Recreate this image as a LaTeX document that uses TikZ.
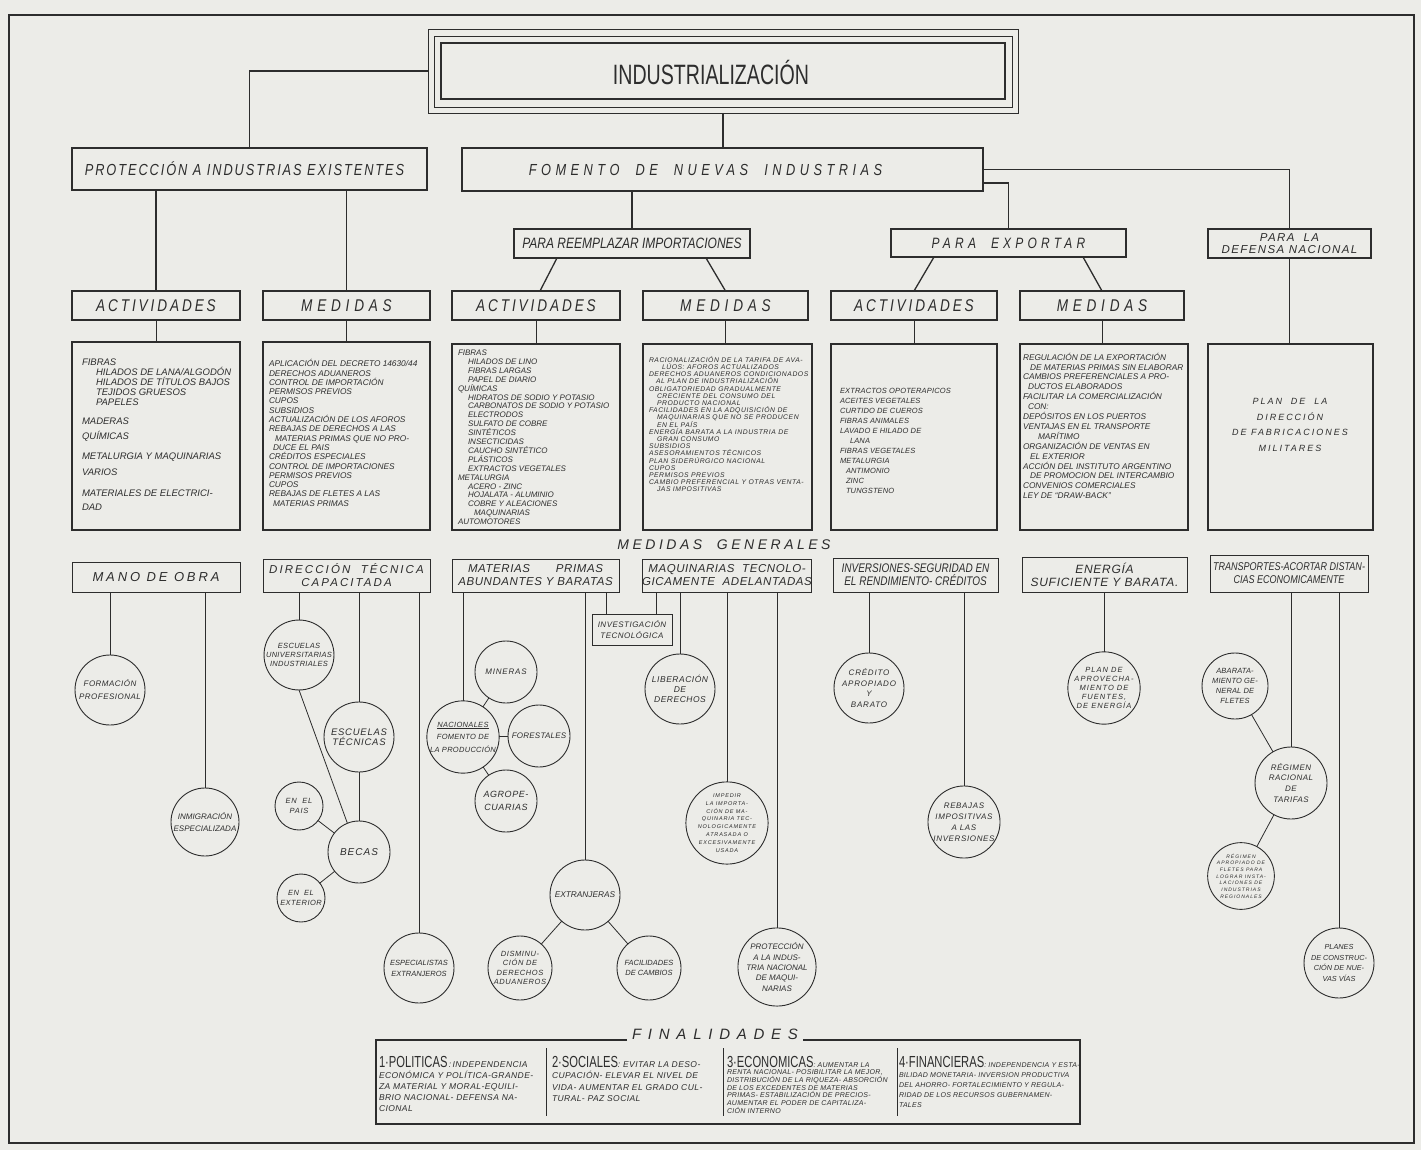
\documentclass[tikz,border=0pt]{standalone}
\usepackage{fontspec}
\setmainfont{Liberation Sans}
\newfontfamily\condf[FakeStretch=0.8]{Liberation Sans}
\newfontfamily\titlef[FakeStretch=0.7]{Liberation Sans}
\usetikzlibrary{calc}
\definecolor{paper}{RGB}{236,236,232}
\definecolor{inkc}{RGB}{45,45,45}
\newcommand{\fs}[2]{\fontsize{#1}{#2}\selectfont}
\newcommand{\ls}[1]{\addfontfeature{LetterSpace=#1}}
\newcommand{\ind}[1]{\hspace*{#1pt}}
\newcommand{\Bx}[7]{\node[#1,minimum width={(#5-#3)*1pt},minimum height={(#6-#4)*1pt}] (#2) at ({(#3+#5)/2},{(#4+#6)/2}) {#7};}
\newcommand{\Cr}[6]{\node[circ,minimum size={2*#5*1pt},#1] (#2) at (#3,#4) {#6};}
\begin{document}
\lineskiplimit=-100pt
\begin{tikzpicture}[x=1pt,y=-1pt,
  lvbox/.style={draw=inkc,line width=2.2pt,inner sep=0pt,outer sep=0pt,text=inkc,align=center},
  mgbox/.style={draw=inkc,line width=1pt,inner sep=0pt,outer sep=0pt,text=inkc,align=center},
  thinbox/.style={draw=inkc,line width=0.8pt,inner sep=0pt,outer sep=0pt},
  circ/.style={circle,draw=inkc,line width=0.9pt,inner sep=0pt,outer sep=0pt,text=inkc,align=center},
  txt/.style={inner sep=0pt,outer sep=0pt,text=inkc,align=left},
  conbig/.style={draw=inkc,line width=1.7pt},
  conmid/.style={draw=inkc,line width=1.3pt},
  consmall/.style={draw=inkc,line width=0.8pt}]
\fill[paper] (0,0) rectangle (1421,1150);
\useasboundingbox (0,0) rectangle (1421,1150);
\draw[inkc,line width=1.8pt] (9,15) rectangle (1414,1143);

% ---------- title ----------
\Bx{thinbox}{tout}{428}{29}{1018}{113}{}
\Bx{thinbox}{tmid}{434}{36}{1012}{107}{}
\Bx{thinbox,line width=2.4pt}{tin}{441}{43}{1005}{99}{}
\node[txt,font=\titlef\fs{28}{28}] (ttext) at (711,72) {INDUSTRIALIZACIÓN};

% ---------- level 2 ----------
\Bx{lvbox,font=\condf\itshape\fs{16}{16}\ls{12}}{prot}{72}{148}{427}{190}{PROTECCIÓN\ A\ INDUSTRIAS\ EXISTENTES\hspace*{10pt}}
\Bx{lvbox,font=\condf\itshape\fs{16}{16}\ls{28}}{fom}{462}{148}{983}{191}{FOMENTO\ \ DE\ \ NUEVAS\ \ INDUSTRIAS\hspace*{34pt}}
\Bx{lvbox,font=\condf\itshape\fs{15}{15}}{reemp}{514}{229}{750}{258}{PARA REEMPLAZAR IMPORTACIONES}
\Bx{lvbox,font=\condf\itshape\fs{15}{15}\ls{28}}{expo}{891}{229}{1126}{257}{PARA\quad EXPORTAR}
\Bx{lvbox,font=\itshape\fs{11.5}{12.5}\ls{12}}{defn}{1208}{229}{1371}{258}{PARA\ \ LA\\DEFENSA NACIONAL}

% ---------- level 3 ----------
\Bx{lvbox,font=\condf\itshape\fs{17}{17}\ls{17}}{act1}{72}{291}{240}{320}{ACTIVIDADES}
\Bx{lvbox,font=\condf\itshape\fs{17}{17}\ls{28}}{med1}{263}{291}{430}{320}{MEDIDAS}
\Bx{lvbox,font=\condf\itshape\fs{17}{17}\ls{17}}{act2}{452}{291}{620}{320}{ACTIVIDADES}
\Bx{lvbox,font=\condf\itshape\fs{17}{17}\ls{28}}{med2}{643}{291}{808}{320}{MEDIDAS}
\Bx{lvbox,font=\condf\itshape\fs{17}{17}\ls{17}}{act3}{831}{291}{997}{320}{ACTIVIDADES}
\Bx{lvbox,font=\condf\itshape\fs{17}{17}\ls{28}}{med3}{1020}{291}{1184}{320}{MEDIDAS}

% ---------- content boxes ----------
\Bx{lvbox}{c1}{72}{342}{240}{530}{}
\Bx{lvbox}{c2}{263}{342}{430}{530}{}
\Bx{lvbox}{c3}{452}{344}{620}{530}{}
\Bx{lvbox}{c4}{643}{344}{812}{530}{}
\Bx{lvbox}{c5}{831}{344}{997}{530}{}
\Bx{lvbox}{c6}{1020}{344}{1188}{530}{}
\Bx{lvbox}{c7}{1208}{344}{1373}{530}{}

\node[txt,anchor=north west,font=\itshape\fs{9.5}{10}] (t1) at (82,359) {FIBRAS\\
\ind{14}HILADOS DE LANA/ALGODÓN\\
\ind{14}HILADOS DE TÍTULOS BAJOS\\
\ind{14}TEJIDOS GRUESOS\\
\ind{14}PAPELES\\[9pt]
MADERAS\\[5pt]
QUÍMICAS\\[10pt]
METALURGIA Y MAQUINARIAS\\[6pt]
VARIOS\\[11pt]
MATERIALES DE ELECTRICI-\\[4pt]
DAD};

\node[txt,anchor=north west,font=\itshape\fs{8.3}{9.3}] (t2) at (269,359.5) {APLICACIÓN DEL DECRETO 14630/44\\
DERECHOS ADUANEROS\\
CONTROL DE IMPORTACIÓN\\
PERMISOS PREVIOS\\
CUPOS\\
SUBSIDIOS\\
ACTUALIZACIÓN DE LOS AFOROS\\
REBAJAS DE DERECHOS A LAS\\
\ind{6}MATERIAS PRIMAS QUE NO PRO-\\
\ind{4}DUCE EL PAIS\\
CRÉDITOS ESPECIALES\\
CONTROL DE IMPORTACIONES\\
PERMISOS PREVIOS\\
CUPOS\\
REBAJAS DE FLETES A LAS\\
\ind{4}MATERIAS PRIMAS};

\node[txt,anchor=north west,font=\itshape\fs{8}{8.9}] (t3) at (458,350) {FIBRAS\\
\ind{10}HILADOS DE LINO\\
\ind{10}FIBRAS LARGAS\\
\ind{10}PAPEL DE DIARIO\\
QUÍMICAS\\
\ind{10}HIDRATOS DE SODIO Y POTASIO\\
\ind{10}CARBONATOS DE SODIO Y POTASIO\\
\ind{10}ELECTRODOS\\
\ind{10}SULFATO DE COBRE\\
\ind{10}SINTÉTICOS\\
\ind{10}INSECTICIDAS\\
\ind{10}CAUCHO SINTÉTICO\\
\ind{10}PLÁSTICOS\\
\ind{10}EXTRACTOS VEGETALES\\
METALURGIA\\
\ind{10}ACERO - ZINC\\
\ind{10}HOJALATA - ALUMINIO\\
\ind{10}COBRE Y ALEACIONES\\
\ind{16}MAQUINARIAS\\
AUTOMOTORES};

\node[txt,anchor=north west,font=\itshape\fs{6.8}{7.2}\ls{8}] (t4) at (649,356.5) {RACIONALIZACIÓN DE LA TARIFA DE AVA-\\
\ind{13}LÚOS: AFOROS ACTUALIZADOS\\
DERECHOS ADUANEROS CONDICIONADOS\\
\ind{7}AL PLAN DE INDUSTRIALIZACIÓN\\
OBLIGATORIEDAD GRADUALMENTE\\
\ind{8}CRECIENTE DEL CONSUMO DEL\\
\ind{8}PRODUCTO NACIONAL\\
FACILIDADES EN LA ADQUISICIÓN DE\\
\ind{8}MAQUINARIAS QUE NO SE PRODUCEN\\
\ind{8}EN EL PAÍS\\
ENERGÍA BARATA A LA INDUSTRIA DE\\
\ind{8}GRAN CONSUMO\\
SUBSIDIOS\\
ASESORAMIENTOS TÉCNICOS\\
PLAN SIDERÚRGICO NACIONAL\\
CUPOS\\
PERMISOS PREVIOS\\
CAMBIO PREFERENCIAL Y OTRAS VENTA-\\
\ind{8}JAS IMPOSITIVAS};

\node[txt,anchor=north west,font=\itshape\fs{7.5}{10}\ls{2}] (t5) at (840,388) {EXTRACTOS OPOTERAPICOS\\
ACEITES VEGETALES\\
CURTIDO DE CUEROS\\
FIBRAS ANIMALES\\
LAVADO E HILADO DE\\
\ind{10}LANA\\
FIBRAS VEGETALES\\
METALURGIA\\
\ind{6}ANTIMONIO\\
\ind{6}ZINC\\
\ind{6}TUNGSTENO};

\node[txt,anchor=north west,font=\itshape\fs{8.3}{9.9}] (t6) at (1023,353) {REGULACIÓN DE LA EXPORTACIÓN\\
\ind{7}DE MATERIAS PRIMAS SIN ELABORAR\\
CAMBIOS PREFERENCIALES A PRO-\\
\ind{5}DUCTOS ELABORADOS\\
FACILITAR LA COMERCIALIZACIÓN\\
\ind{5}CON:\\
DEPÓSITOS EN LOS PUERTOS\\
VENTAJAS EN EL TRANSPORTE\\
\ind{15}MARÍTIMO\\
ORGANIZACIÓN DE VENTAS EN\\
\ind{7}EL EXTERIOR\\
ACCIÓN DEL INSTITUTO ARGENTINO\\
\ind{7}DE PROMOCION DEL INTERCAMBIO\\
CONVENIOS COMERCIALES\\
LEY DE ``DRAW-BACK''};

\node[txt,align=center,font=\itshape\fs{9}{15.6}\ls{22}] (t7) at (1290,425) {PLAN\ \ DE\ \ LA\\ DIRECCIÓN\\ DE FABRICACIONES\\ MILITARES};

% ---------- medidas generales ----------
\node[txt,font=\itshape\fs{14}{14}\ls{25}] (mgt) at (724,545) {MEDIDAS\ \ GENERALES};
\Bx{mgbox,font=\itshape\fs{13}{13}\ls{22}}{mg1}{72}{562}{240}{592}{MANO DE OBRA}
\Bx{mgbox,font=\itshape\fs{11.5}{13}\ls{18}}{mg2}{263}{559}{430}{592}{DIRECCIÓN\ \ TÉCNICA\\CAPACITADA}
\Bx{mgbox,font=\itshape\fs{11.5}{13}\ls{5}}{mg3}{452}{559}{619}{592}{MATERIAS\hspace{26pt}PRIMAS\\ABUNDANTES Y BARATAS}
\Bx{mgbox,font=\itshape\fs{11.5}{13}\ls{5}}{mg4}{644}{559}{810}{592}{MAQUINARIAS\ \ TECNOLO-\\GICAMENTE\ \ ADELANTADAS}
\Bx{mgbox,font=\condf\itshape\fs{12.5}{13}}{mg5}{833}{558}{998}{592}{INVERSIONES-SEGURIDAD EN\\EL RENDIMIENTO- CRÉDITOS}
\Bx{mgbox,font=\itshape\fs{12}{13}\ls{6}}{mg6}{1022}{557}{1187}{592}{ENERGÍA\\SUFICIENTE Y BARATA.}
\Bx{mgbox,font=\condf\itshape\fs{11.3}{13}}{mg7}{1210}{555}{1368}{592}{TRANSPORTES-ACORTAR DISTAN-\\CIAS ECONOMICAMENTE}

% ---------- circles ----------
\Cr{font=\itshape\fs{8}{13}\ls{6}}{form}{110}{690}{35}{FORMACIÓN\\PROFESIONAL}
\Cr{font=\itshape\fs{8}{12.5}}{inmig}{205}{822}{34}{INMIGRACIÓN\\ESPECIALIZADA}
\Cr{font=\itshape\fs{7.5}{9.3}\ls{4}}{escuniv}{299}{655}{34}{ESCUELAS\\UNIVERSITARIAS\\INDUSTRIALES}
\Cr{font=\itshape\fs{9.5}{10.5}\ls{8}}{esctec}{359}{737}{35}{ESCUELAS\\TÉCNICAS}
\Cr{font=\itshape\fs{10}{10}\ls{10}}{becas}{359}{852}{31}{BECAS}
\Cr{font=\itshape\fs{7.5}{10}\ls{10}}{paisc}{299}{806}{24}{EN\ \ EL\\PAIS}
\Cr{font=\itshape\fs{7.5}{10}\ls{6}}{exter}{301}{898}{24}{EN\ \ EL\\EXTERIOR}
\Cr{font=\itshape\fs{7.5}{11}}{espec}{419}{968}{35}{ESPECIALISTAS\\EXTRANJEROS}
\Cr{font=\itshape\fs{7.5}{12.5}\ls{4}}{nac}{463}{737}{35}{\underline{NACIONALES}\\FOMENTO DE\\LA PRODUCCIÓN}
\Cr{font=\itshape\fs{8}{10}\ls{10}}{minr}{506}{672}{31}{MINERAS}
\Cr{font=\itshape\fs{8}{10}\ls{3}}{fores}{539}{736}{31}{FORESTALES}
\Cr{font=\itshape\fs{9}{12.7}\ls{6}}{agro}{506}{801}{31}{AGROPE-\\CUARIAS}
\Cr{font=\itshape\fs{8.3}{10}}{extr}{585}{895}{35}{EXTRANJERAS}
\Cr{font=\itshape\fs{7.5}{9.5}\ls{8}}{dism}{520}{968}{32}{DISMINU-\\CIÓN DE\\DERECHOS\\ADUANEROS}
\Cr{font=\itshape\fs{7.5}{10.7}}{facil}{649}{968}{32}{FACILIDADES\\DE CAMBIOS}
\Bx{mgbox,font=\itshape\fs{8}{11}\ls{6}}{inv}{592}{614}{672}{645}{INVESTIGACIÓN\\TECNOLÓGICA}
\Cr{font=\itshape\fs{8.5}{10}\ls{6}}{lib}{680}{689}{35}{LIBERACIÓN\\DE\\DERECHOS}
\Cr{font=\itshape\fs{5.5}{7.8}\ls{15}}{imped}{727}{823}{34}{IMPEDIR\\LA IMPORTA-\\CIÓN DE MA-\\QUINARIA TEC-\\NOLOGICAMENTE\\ATRASADA O\\EXCESIVAMENTE\\USADA}
\Cr{font=\itshape\fs{8}{10.4}}{protm}{777}{967}{35}{PROTECCIÓN\\A LA INDUS-\\TRIA NACIONAL\\DE MAQUI-\\NARIAS}
\Cr{font=\itshape\fs{8}{10.6}\ls{10}}{cred}{869}{688}{35}{CRÉDITO\\APROPIADO\\Y\\BARATO}
\Cr{font=\itshape\fs{8}{11}\ls{8}}{rebaj}{964}{822}{34}{REBAJAS\\IMPOSITIVAS\\A LAS\\INVERSIONES}
\Cr{font=\itshape\fs{7.5}{9.2}\ls{14}}{planen}{1104}{688}{35}{PLAN DE\\APROVECHA-\\MIENTO DE\\FUENTES,\\DE ENERGÍA}
\Cr{font=\itshape\fs{7.5}{10}\ls{2}}{abar}{1235}{686}{33}{ABARATA-\\MIENTO GE-\\NERAL DE\\FLETES}
\Cr{font=\itshape\fs{8}{10.9}\ls{6}}{regim}{1291}{783}{36}{RÉGIMEN\\RACIONAL\\DE\\TARIFAS}
\Cr{font=\itshape\fs{5}{6.7}\ls{20}}{regap}{1241}{876}{28}{RÉGIMEN\\APROPIADO DE\\FLETES PARA\\LOGRAR INSTA-\\LACIONES DE\\INDUSTRIAS\\REGIONALES}
\Cr{font=\itshape\fs{7.3}{10.7}}{planes}{1339}{963}{35}{PLANES\\DE CONSTRUC-\\CIÓN DE NUE-\\VAS VÍAS}

% ---------- connectors, upper part ----------
\draw[conbig] (tout.west) -| (prot.north);
\draw[conbig] (tout.south) -- (tout.south |- fom.north);
\draw[conbig] (fom.east) -| (defn.north);
\draw[conbig] ($(fom.south east)+(0,-8)$) -| (expo.north);
\draw[conbig] (reemp.north) -- (reemp.north |- fom.south);
\draw[conbig] (act1.north) -- (act1.north |- prot.south);
\draw[conbig] (med1.north) -- (med1.north |- prot.south);
\draw[conmid] ($(reemp.south west)+(43,0)$) -- ($(act2.north)+(4,0)$);
\draw[conmid] ($(reemp.south east)+(-44,0)$) -- (med2.north);
\draw[conmid] ($(expo.south west)+(43,0)$) -- (act3.north);
\draw[conmid] ($(expo.south east)+(-43,0)$) -- (med3.north);
\draw[consmall] (act1.south) -- (act1.south |- c1.north);
\draw[consmall] (med1.south) -- (med1.south |- c2.north);
\draw[consmall] (act2.south) -- (act2.south |- c3.north);
\draw[consmall] (med2.south) -- (med2.south |- c4.north);
\draw[consmall] (act3.south) -- (act3.south |- c5.north);
\draw[consmall] (med3.south) -- (med3.south |- c6.north);
\draw[consmall,line width=1pt] (defn.south) -- (defn.south |- c7.north);

% ---------- connectors, lower part ----------
\draw[consmall] (form.north) -- (form.north |- mg1.south);
\draw[consmall] (inmig.north) -- (inmig.north |- mg1.south);
\draw[consmall] (escuniv.north) -- (escuniv.north |- mg2.south);
\draw[consmall] (esctec.north) -- (esctec.north |- mg2.south);
\draw[consmall] (espec.north) -- (espec.north |- mg2.south);
\draw[consmall] (esctec.south) -- (becas.north);
\draw[consmall] (escuniv.south) -- (becas.112);
\draw[consmall] (paisc) -- (becas);
\draw[consmall] (exter) -- (becas);
\draw[consmall] (nac.north) -- (nac.north |- mg3.south);
\draw[consmall] (nac) -- (minr);
\draw[consmall] (nac) -- (fores);
\draw[consmall] (nac) -- (agro);
\draw[consmall] (extr.north) -- (extr.north |- mg3.south);
\draw[consmall] (extr) -- (dism);
\draw[consmall] (extr) -- (facil);
\coordinate (inv1) at ($(inv.north west)+(14,0)$);
\coordinate (inv2) at ($(inv.north east)+(-16,0)$);
\draw[consmall] (inv1) -- (inv1 |- mg3.south);
\draw[consmall] (inv2) -- (inv2 |- mg4.south);
\draw[consmall] (lib.north) -- (lib.north |- mg4.south);
\draw[consmall] (imped.north) -- (imped.north |- mg4.south);
\draw[consmall] (protm.north) -- (protm.north |- mg4.south);
\draw[consmall] (cred.north) -- (cred.north |- mg5.south);
\draw[consmall] (rebaj.north) -- (rebaj.north |- mg5.south);
\draw[consmall] (planen.north) -- (planen.north |- mg6.south);
\draw[consmall] (regim.north) -- (regim.north |- mg7.south);
\draw[consmall] (planes.north) -- (planes.north |- mg7.south);
\draw[consmall] (abar) -- (regim);
\draw[consmall] (regim) -- (regap);

% ---------- finalidades ----------
\Bx{inner sep=0pt,outer sep=0pt}{finbox}{376}{1040}{1080}{1124}{}
\node[txt,inner xsep=5pt,anchor=base,font=\itshape\fs{15}{15}\ls{45}] (fint) at (715,1039) {FINALIDADES};
\draw[conmid] (finbox.north west -| fint.west) -- (finbox.north west) -- (finbox.south west) -- (finbox.south east) -- (finbox.north east) -- (finbox.north east -| fint.east);
\draw[consmall] ($(finbox.north west)+(170,8)$) -- ($(finbox.south west)+(170,-8)$);
\draw[consmall] ($(finbox.north west)+(347,8)$) -- ($(finbox.south west)+(347,-8)$);
\draw[consmall] ($(finbox.north west)+(521,8)$) -- ($(finbox.south west)+(521,-8)$);
\node[txt,anchor=north west,font=\itshape\fs{8.5}{11}\ls{5}] (fin1) at (379,1056) {{\titlef\upshape\fs{16}{16}1·POLITICAS}\,:\,INDEPENDENCIA\\ ECONÓMICA Y POLÍTICA-GRANDE-\\ ZA MATERIAL Y MORAL-EQUILI-\\ BRIO NACIONAL- DEFENSA NA-\\ CIONAL};
\node[txt,anchor=north west,font=\itshape\fs{8.5}{11.5}\ls{5}] (fin2) at (552,1056) {{\titlef\upshape\fs{16}{16}2·SOCIALES}:\ EVITAR LA DESO-\\ CUPACIÓN- ELEVAR EL NIVEL DE\\ VIDA- AUMENTAR EL GRADO CUL-\\ TURAL- PAZ SOCIAL};
\node[txt,anchor=north west,font=\itshape\fs{7}{7.7}\ls{4}] (fin3) at (727,1056) {{\titlef\upshape\fs{16}{16}3·ECONOMICAS}:\ AUMENTAR LA\\ RENTA NACIONAL- POSIBILITAR LA MEJOR,\\ DISTRIBUCIÓN DE LA RIQUEZA- ABSORCIÓN\\ DE LOS EXCEDENTES DE MATERIAS\\ PRIMAS- ESTABILIZACIÓN DE PRECIOS-\\ AUMENTAR EL PODER DE CAPITALIZA-\\ CIÓN INTERNO};
\node[txt,anchor=north west,font=\itshape\fs{7}{10}\ls{4}] (fin4) at (899,1056) {{\titlef\upshape\fs{16}{16}4·FINANCIERAS}:\ INDEPENDENCIA Y ESTA-\\ BILIDAD MONETARIA- INVERSION PRODUCTIVA\\ DEL AHORRO- FORTALECIMIENTO Y REGULA-\\ RIDAD DE LOS RECURSOS GUBERNAMEN-\\ TALES};
\end{tikzpicture}
\end{document}
